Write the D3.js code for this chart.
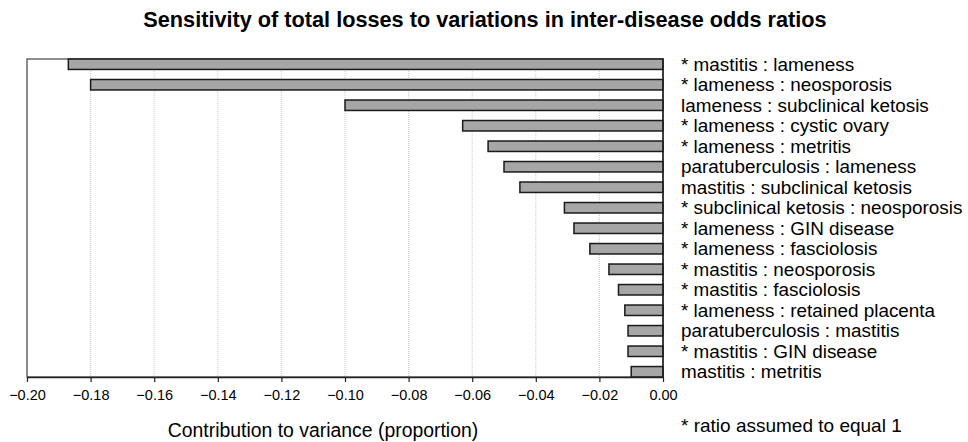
<!DOCTYPE html>
<html><head><meta charset="utf-8">
<script src="https://cdn.jsdelivr.net/npm/d3@7"></script>
<style>
body{margin:0;background:#fff;}
text{font-family:"Liberation Sans",Arial,sans-serif;fill:#000;}
</style></head>
<body><svg id="c" width="968" height="442"></svg>
<script>
const categories = [
  "* mastitis : lameness",
  "* lameness : neosporosis",
  "lameness : subclinical ketosis",
  "* lameness : cystic ovary",
  "* lameness : metritis",
  "paratuberculosis : lameness",
  "mastitis : subclinical ketosis",
  "* subclinical ketosis : neosporosis",
  "* lameness : GIN disease",
  "* lameness : fasciolosis",
  "* mastitis : neosporosis",
  "* mastitis : fasciolosis",
  "* lameness : retained placenta",
  "paratuberculosis : mastitis",
  "* mastitis : GIN disease",
  "mastitis : metritis"
];
const values = [-0.187, -0.180, -0.100, -0.063, -0.055, -0.050, -0.045, -0.031, -0.028, -0.023, -0.017, -0.014, -0.012, -0.011, -0.011, -0.010];
const tickValues = [-0.20, -0.18, -0.16, -0.14, -0.12, -0.10, -0.08, -0.06, -0.04, -0.02, 0.00];
const title = "Sensitivity of total losses to variations in inter-disease odds ratios";
const xTitle = "Contribution to variance (proportion)";
const footnote = "* ratio assumed to equal 1";

const svg = d3.select("#c");
const L = 27, R = 663, T = 59, B = 377;
const x = d3.scaleLinear().domain([-0.2, 0]).range([L, R]);
const y = d3.scaleBand().domain(categories).range([T, B]).paddingInner(0.49).paddingOuter(0);

// grid
svg.append("g").selectAll("line").data(tickValues.filter(d => d > -0.2 && d < 0)).join("line")
  .attr("x1", d => x(d)).attr("x2", d => x(d)).attr("y1", T).attr("y2", B)
  .attr("stroke", "#c8c8c8").attr("stroke-width", 1).attr("stroke-dasharray", "1,1");

// frame
svg.append("rect").attr("x", L).attr("y", T).attr("width", R - L).attr("height", B - T)
  .attr("fill", "none").attr("stroke", "#444").attr("stroke-width", 1.2);

// bars
svg.append("g").selectAll("rect").data(values).join("rect")
  .attr("x", d => x(d)).attr("width", d => x(0) - x(d))
  .attr("y", (d, i) => y(categories[i])).attr("height", y.bandwidth())
  .attr("fill", "#a6a6a6").attr("stroke", "#1a1a1a").attr("stroke-width", 1.5);

// axis
const ax = svg.append("g").attr("transform", `translate(0,${B})`)
  .call(d3.axisBottom(x).tickValues(tickValues).tickFormat(d3.format(".2f")).tickSize(5).tickSizeOuter(0));
ax.select(".domain").attr("stroke", "#222").attr("stroke-width", 1.5);
ax.selectAll(".tick line").attr("stroke", "#222").attr("stroke-width", 1.2);
ax.selectAll(".tick text").attr("font-size", 14.5).attr("dy", "1.05em").attr("fill", "#000")
  .style("font-family", '"Liberation Sans",Arial,sans-serif');

// zero line
svg.append("line").attr("x1", x(0)).attr("x2", x(0)).attr("y1", T).attr("y2", B)
  .attr("stroke", "#222").attr("stroke-width", 1.5);

// category labels
svg.append("g").selectAll("text").data(categories).join("text")
  .attr("x", 681).attr("y", d => y(d) + y.bandwidth() / 2).attr("dy", "0.35em")
  .attr("font-size", 18.9).text(d => d);

svg.append("text").attr("x", 485).attr("y", 27).attr("text-anchor", "middle")
  .attr("font-size", 21.7).attr("font-weight", "bold").text(title);
svg.append("text").attr("x", 323).attr("y", 437).attr("text-anchor", "middle")
  .attr("font-size", 19.4).text(xTitle);
svg.append("text").attr("x", 681).attr("y", 432)
  .attr("font-size", 19).text(footnote);
</script></body></html>
